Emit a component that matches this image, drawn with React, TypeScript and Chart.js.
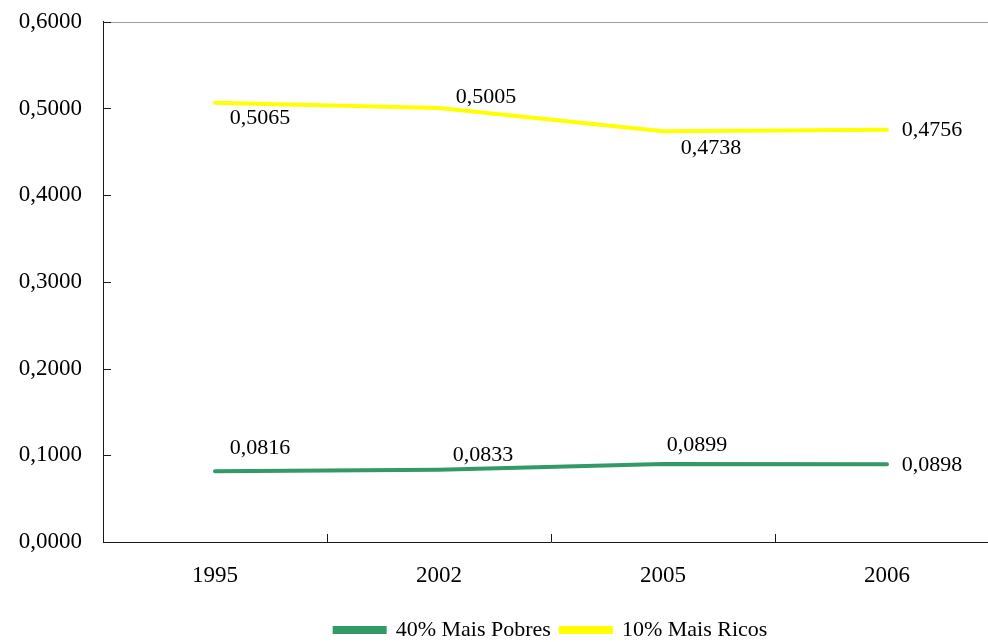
import React, { useEffect, useRef } from "react";
import { Chart, registerables } from "chart.js";

Chart.register(...registerables);

const categories = ["1995", "2002", "2005", "2006"];
const seriesNames = ["40% Mais Pobres", "10% Mais Ricos"];
const poorest40 = [0.0816, 0.0833, 0.0899, 0.0898];
const richest10 = [0.5065, 0.5005, 0.4738, 0.4756];
const yTicks = [0, 0.1, 0.2, 0.3, 0.4, 0.5, 0.6];

const colors = ["#339966", "#FFFF00"];
// label placement offsets (style only), per dataset, per point
const labelOffsets = [
  [
    { dx: 45, dy: -23 },
    { dx: 44, dy: -15 },
    { dx: 34, dy: -19 },
    { dx: 45, dy: 1 },
  ],
  [
    { dx: 45, dy: 15 },
    { dx: 47, dy: -11 },
    { dx: 48, dy: 17 },
    { dx: 45, dy: 1 },
  ],
];

const FONT = "'Liberation Serif', 'Times New Roman', serif";
const fmt = (v: number) => v.toFixed(4).replace(".", ",");

const decorPlugin = {
  id: "decor",
  beforeDatasetsDraw(chart: any) {
    const { ctx, chartArea, scales } = chart;
    const { left, right, top, bottom } = chartArea;
    ctx.save();
    // top border (gray)
    ctx.strokeStyle = "#A0A0A0";
    ctx.lineWidth = 1;
    ctx.beginPath();
    ctx.moveTo(left, Math.round(top) + 0.5);
    ctx.lineTo(right, Math.round(top) + 0.5);
    ctx.stroke();
    // inner y ticks
    ctx.strokeStyle = "#1a1a1a";
    ctx.beginPath();
    yTicks.forEach((t) => {
      const y = Math.round(scales.y.getPixelForValue(t)) + 0.5;
      ctx.moveTo(left, y);
      ctx.lineTo(left + 8, y);
    });
    // inner x ticks at category boundaries
    for (let i = 0; i < categories.length - 1; i++) {
      const x =
        Math.round(
          (scales.x.getPixelForValue(i) + scales.x.getPixelForValue(i + 1)) / 2
        ) + 0.5;
      ctx.moveTo(x, bottom);
      ctx.lineTo(x, bottom - 8);
    }
    ctx.stroke();
    ctx.restore();
  },
  afterDatasetsDraw(chart: any) {
    const { ctx } = chart;
    ctx.save();
    ctx.font = `22px ${FONT}`;
    ctx.fillStyle = "#000";
    ctx.textAlign = "center";
    ctx.textBaseline = "middle";
    chart.data.datasets.forEach((ds: any, i: number) => {
      const meta = chart.getDatasetMeta(i);
      meta.data.forEach((pt: any, j: number) => {
        const off = labelOffsets[i][j];
        ctx.fillText(fmt(ds.data[j]), pt.x + off.dx, pt.y + off.dy);
      });
    });
    ctx.restore();
  },
};

export default function App() {
  const ref = useRef<HTMLCanvasElement>(null);
  useEffect(() => {
    if (!ref.current) return;
    const chart = new Chart(ref.current, {
      type: "line",
      data: {
        labels: categories,
        datasets: [
          {
            label: seriesNames[0],
            data: poorest40,
            borderColor: colors[0],
            backgroundColor: colors[0],
            borderWidth: 4,
            pointRadius: 0,
            borderCapStyle: "round",
            tension: 0,
          },
          {
            label: seriesNames[1],
            data: richest10,
            borderColor: colors[1],
            backgroundColor: colors[1],
            borderWidth: 4,
            pointRadius: 0,
            borderCapStyle: "round",
            tension: 0,
          },
        ],
      },
      options: {
        animation: false,
        responsive: false,
        maintainAspectRatio: false,
        layout: { padding: { left: 0, right: 11, top: 9, bottom: 0 } },
        plugins: {
          legend: {
            display: true,
            position: "bottom",
            fullSize: false,
            labels: {
              font: { family: FONT, size: 22 },
              color: "#000",
              boxWidth: 50,
              boxHeight: 4,
              padding: 10,
            },
          },
          tooltip: { enabled: false },
        },
        scales: {
          x: {
            type: "category",
            offset: true,
            grid: { display: false, drawTicks: false, offset: true },
            border: { display: true, color: "#1a1a1a", width: 1 },
            ticks: {
              font: { family: FONT, size: 23 },
              color: "#000",
              padding: 20,
              maxRotation: 0,
            },
            afterFit: (s: any) => {
              s.height = 67;
            },
          },
          y: {
            min: 0,
            max: 0.6,
            grid: { display: false, drawTicks: false },
            border: { display: true, color: "#1a1a1a", width: 1 },
            ticks: {
              stepSize: 0.1,
              font: { family: FONT, size: 23 },
              color: "#000",
              padding: 21,
              callback: (v: any) => fmt(Number(v)),
            },
            afterFit: (s: any) => {
              s.width = 103;
            },
          },
        },
      },
      plugins: [decorPlugin],
    });
    return () => chart.destroy();
  }, []);
  return (
    <div
      style={{
        position: "fixed",
        left: 0,
        top: 0,
        width: 988,
        height: 642,
        overflow: "hidden",
        background: "#fff",
      }}
    >
      <canvas
        ref={ref}
        width={1010}
        height={664}
        style={{
          display: "block",
          position: "absolute",
          left: 0,
          top: -13,
          width: 1010,
          height: 664,
        }}
      />
    </div>
  );
}
